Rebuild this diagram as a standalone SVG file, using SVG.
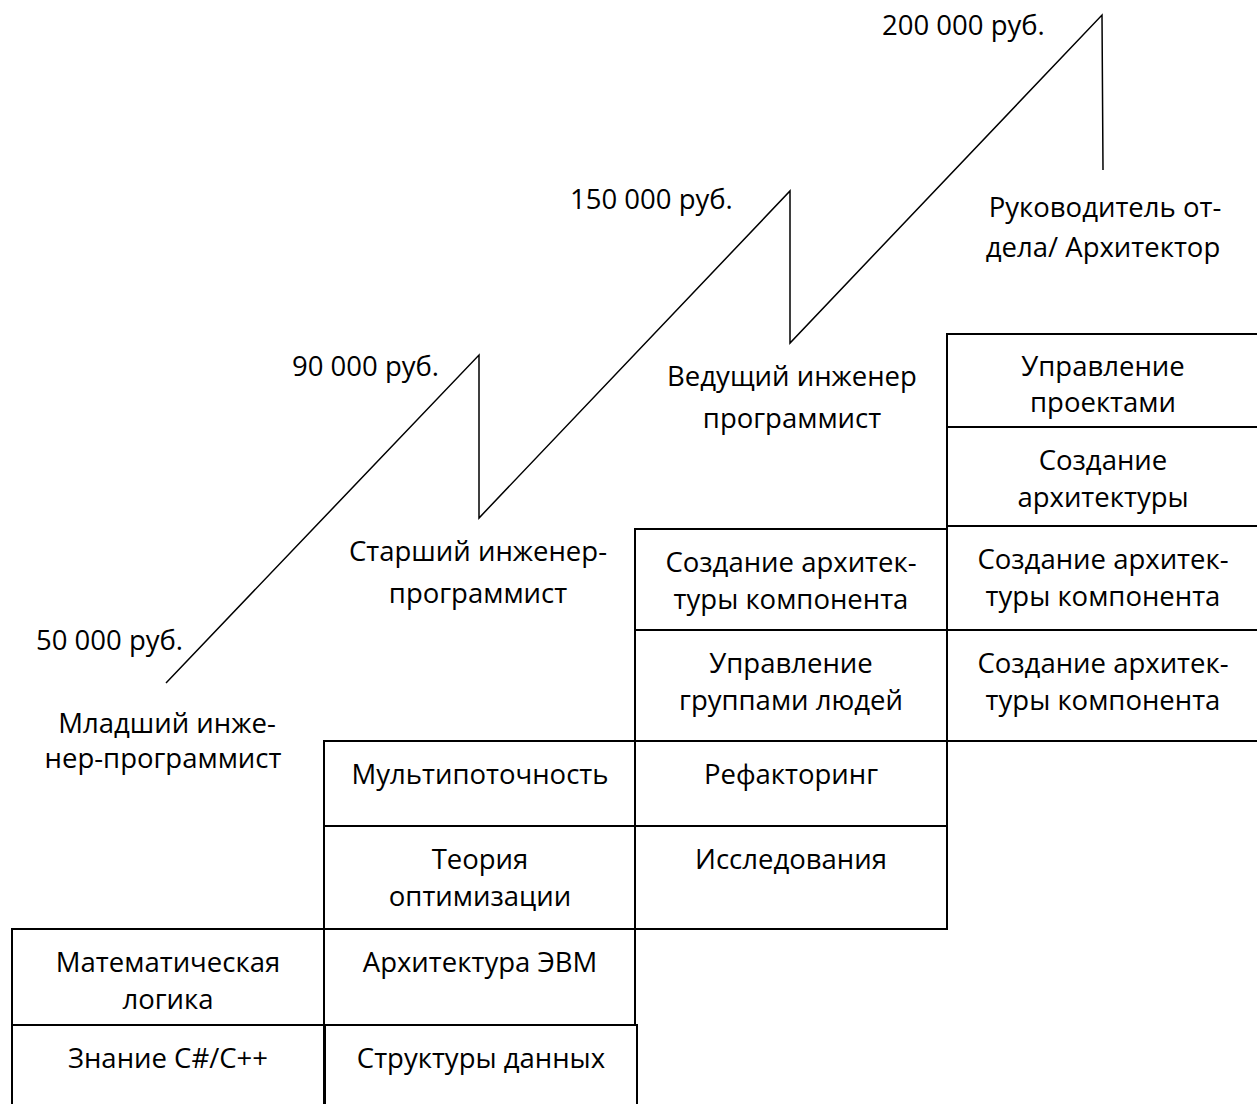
<svg xmlns="http://www.w3.org/2000/svg" width="1257" height="1104" viewBox="0 0 1257 1104">
<style>
text{font-family:"Open Sans","Noto Sans",sans-serif;font-size:27.5px;fill:#000}
.c{text-anchor:middle}
.cell{fill:#fff;stroke:#000;stroke-width:2}
.zig{fill:none;stroke:#000;stroke-width:1.5;stroke-linejoin:miter}
</style>
<rect x="0" y="0" width="1257" height="1104" fill="#fff"/>
<g id="connectors">
<polyline class="zig" points="166,683 479,355 479,518 790,191 790,343 1102,15 1103,170"/>
</g>
<g id="labels">
<text x="36" y="650">50 000 руб.</text>
<text x="292" y="376">90 000 руб.</text>
<text x="570" y="209">150 000 руб.</text>
<text x="882" y="35">200 000 руб.</text>
</g>
<g id="level1">
<text class="c" x="167" y="733">Младший инже-</text>
<text class="c" x="163" y="768">нер-программист</text>
</g>
<g id="level2">
<text class="c" x="478" y="561">Старший инженер-</text>
<text class="c" x="478" y="603">программист</text>
</g>
<g id="level3">
<text class="c" x="792" y="386">Ведущий инженер</text>
<text class="c" x="792" y="428">программист</text>
</g>
<g id="level4">
<text class="c" x="1105" y="217">Руководитель от-</text>
<text class="c" x="1103" y="257">дела/ Архитектор</text>
</g>
<g id="c1r1"><rect class="cell" x="12" y="929" width="312" height="96"/><text class="c" x="168" y="972">Математическая</text><text class="c" x="168" y="1009">логика</text></g>
<g id="c1r2"><rect class="cell" x="12" y="1025" width="312" height="90"/><text class="c" x="168" y="1068">Знание C#/C++</text></g>
<g id="c2r1"><rect class="cell" x="324" y="741" width="311" height="85"/><text class="c" x="480" y="784">Мультипоточность</text></g>
<g id="c2r2"><rect class="cell" x="324" y="826" width="311" height="103"/><text class="c" x="480" y="869">Теория</text><text class="c" x="480" y="906">оптимизации</text></g>
<g id="c2r3"><rect class="cell" x="324" y="929" width="311" height="96"/><text class="c" x="480" y="972">Архитектура ЭВМ</text></g>
<g id="c2r4"><rect class="cell" x="325" y="1025" width="312" height="90"/><text class="c" x="481" y="1068">Структуры данных</text></g>
<g id="c3r1"><rect class="cell" x="635" y="529" width="312" height="101"/><text class="c" x="791" y="572">Создание архитек-</text><text class="c" x="791" y="609">туры компонента</text></g>
<g id="c3r2"><rect class="cell" x="635" y="630" width="312" height="111"/><text class="c" x="791" y="673">Управление</text><text class="c" x="791" y="710">группами людей</text></g>
<g id="c3r3"><rect class="cell" x="635" y="741" width="312" height="85"/><text class="c" x="791" y="784">Рефакторинг</text></g>
<g id="c3r4"><rect class="cell" x="635" y="826" width="312" height="103"/><text class="c" x="791" y="869">Исследования</text></g>
<g id="c4r1"><rect class="cell" x="947" y="334" width="320" height="93"/><text class="c" x="1103" y="376">Управление</text><text class="c" x="1103" y="412">проектами</text></g>
<g id="c4r2"><rect class="cell" x="947" y="427" width="320" height="99"/><text class="c" x="1103" y="470">Создание</text><text class="c" x="1103" y="507">архитектуры</text></g>
<g id="c4r3"><rect class="cell" x="947" y="526" width="320" height="104"/><text class="c" x="1103" y="569">Создание архитек-</text><text class="c" x="1103" y="606">туры компонента</text></g>
<g id="c4r4"><rect class="cell" x="947" y="630" width="320" height="111"/><text class="c" x="1103" y="673">Создание архитек-</text><text class="c" x="1103" y="710">туры компонента</text></g>
</svg>
